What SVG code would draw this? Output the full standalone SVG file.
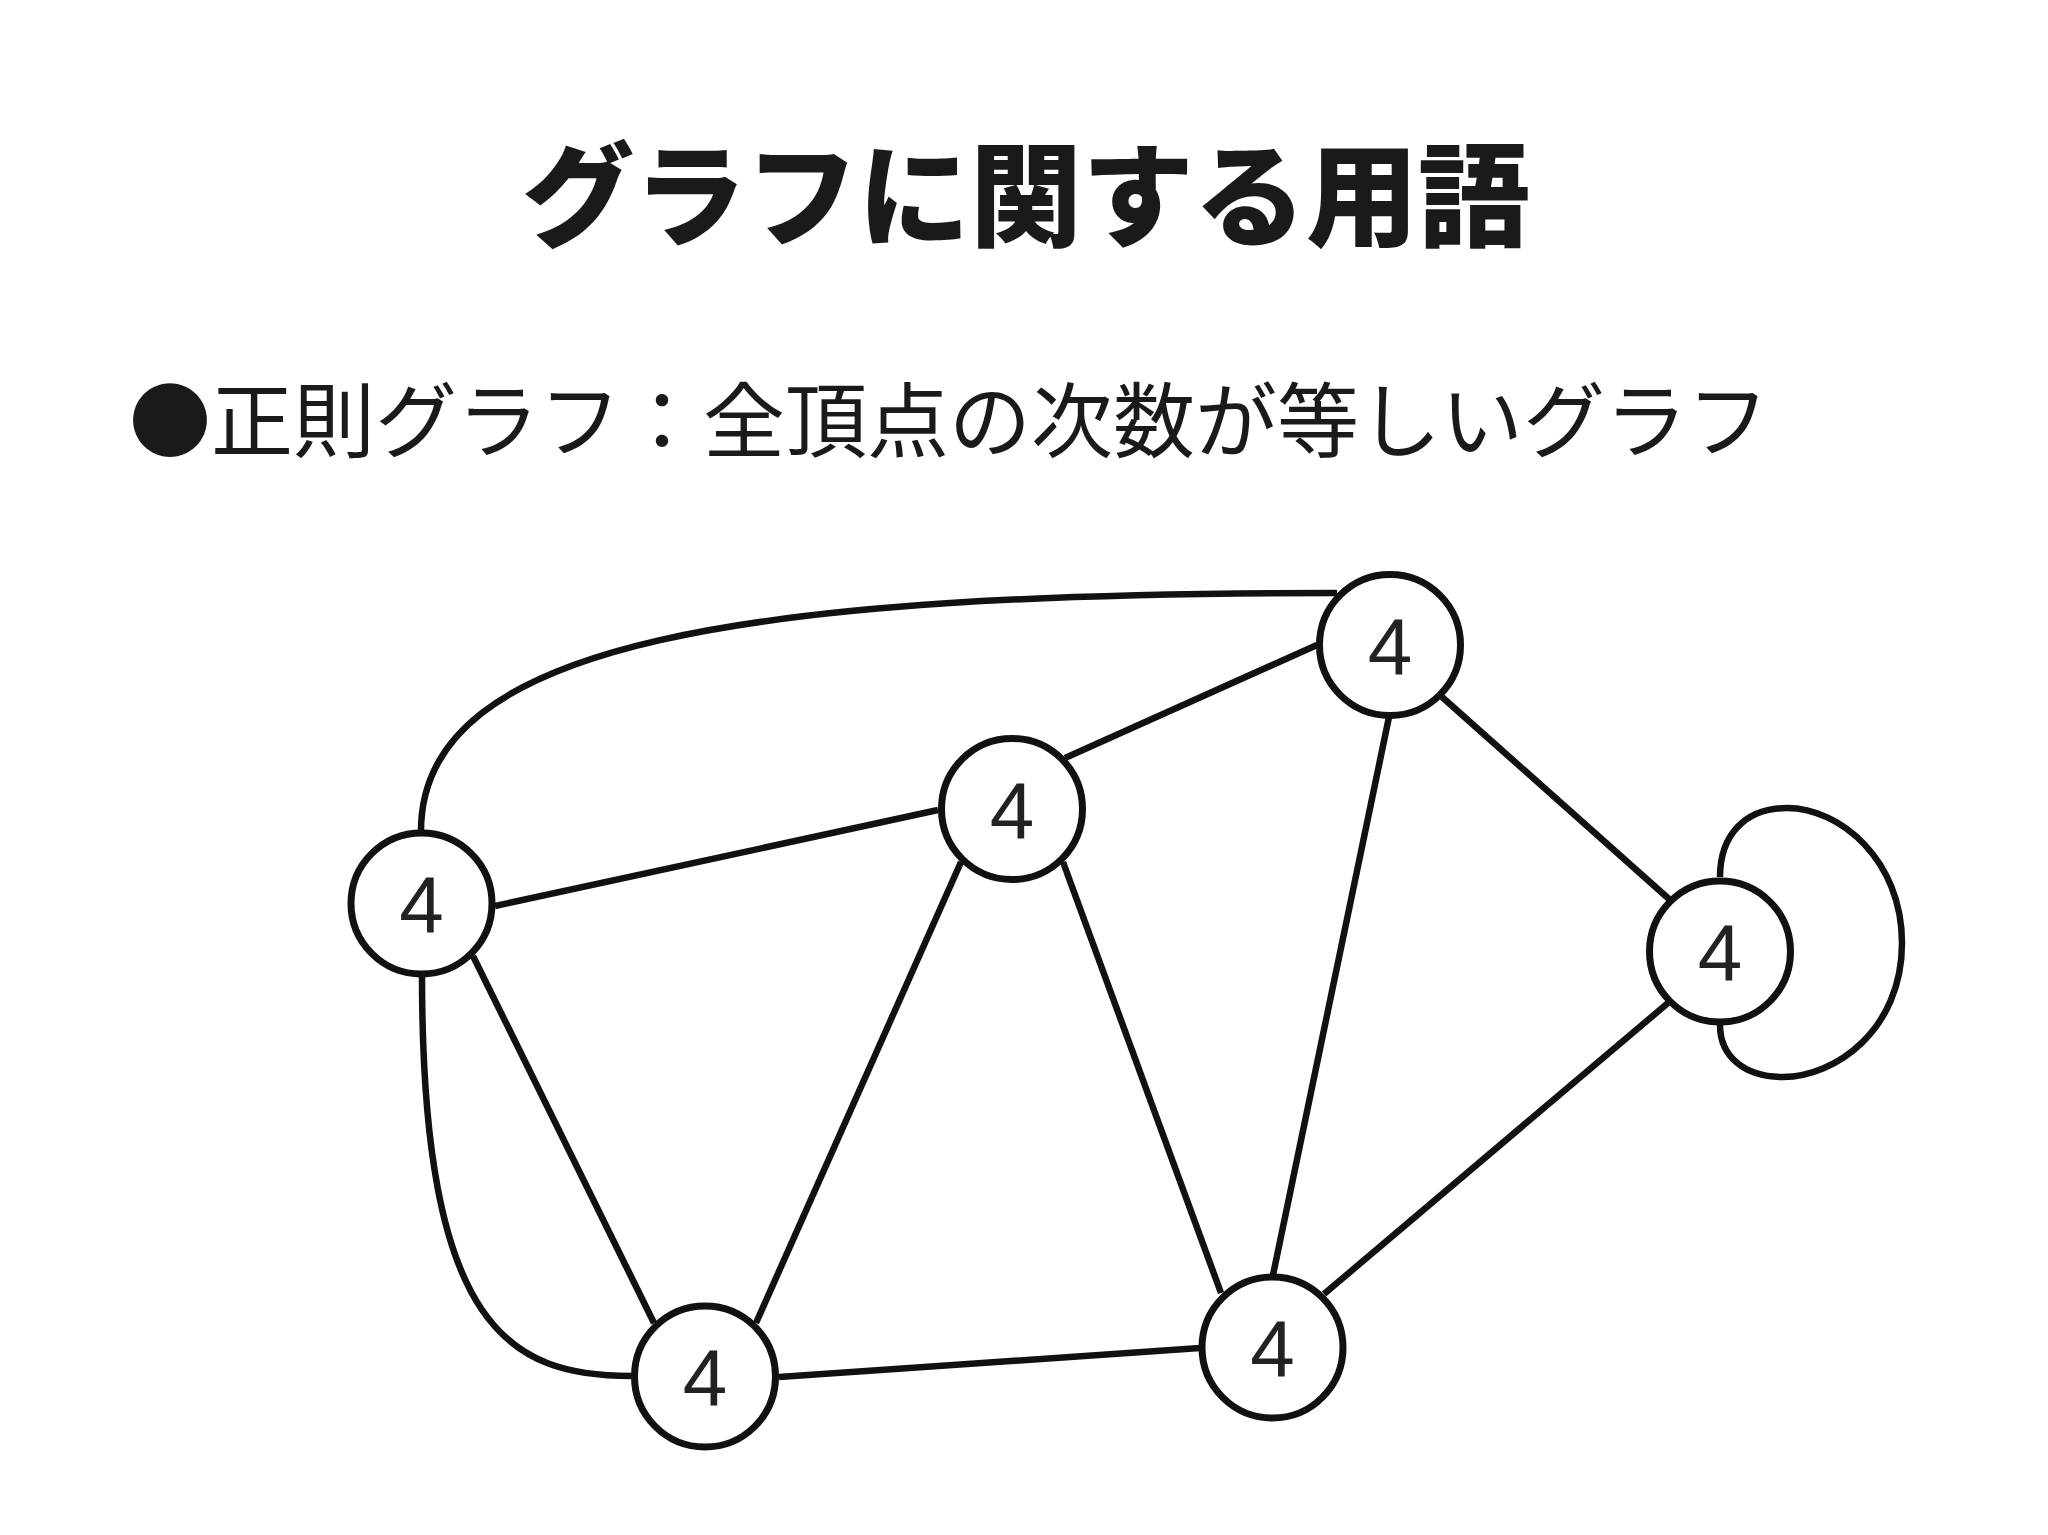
<svg xmlns="http://www.w3.org/2000/svg" width="2048" height="1535" viewBox="0 0 2048 1535">
<style>
.edge{fill:none;stroke:#111;stroke-width:6.5;stroke-linecap:butt}
.node circle{fill:#fff;stroke:#111;stroke-width:7}
.node text{font-family:"Liberation Sans",Arial,sans-serif;font-size:80px;fill:#222;text-anchor:middle}
.title{font-family:"Noto Sans CJK JP","Noto Sans",sans-serif;font-weight:900;font-size:112px;fill:#1a1a1a;text-anchor:middle}
.sub{font-family:"Noto Sans CJK JP","Noto Sans",sans-serif;font-size:82px;fill:#1a1a1a}
</style>
<rect width="2048" height="1535" fill="#fff"/>
<text class="title" x="1026" y="238">グラフに関する用語</text>
<text class="sub" x="129" y="451">●正則グラフ：全頂点の次数が等しいグラフ</text>
<g id="connectors">
<line class="edge" x1="495" y1="906" x2="938" y2="810"/>
<path class="edge" d="M421,831 C421,640 750,593 1337,593"/>
<path class="edge" d="M422,976 C422,1330 510,1376 632,1376"/>
<line class="edge" x1="473" y1="956" x2="654" y2="1323"/>
<line class="edge" x1="1065" y1="758" x2="1317" y2="645"/>
<line class="edge" x1="961" y1="862" x2="756" y2="1323"/>
<line class="edge" x1="1063" y1="862" x2="1221" y2="1293"/>
<line class="edge" x1="1389" y1="717" x2="1273" y2="1275"/>
<line class="edge" x1="1442" y1="697" x2="1669" y2="899"/>
<line class="edge" x1="1668" y1="1003" x2="1324" y2="1294"/>
<line class="edge" x1="779" y1="1377" x2="1200" y2="1348"/>
<path class="edge" d="M1720,877 C1720,835 1745,808 1787,808 C1840,808 1902,860 1902,943 C1902,1030 1835,1077 1783,1077 C1745,1077 1720,1057 1720,1025"/>
</g>
<g id="node-a" class="node"><circle cx="421.5" cy="903.5" r="70.5"/><text x="421.5" y="932">4</text></g>
<g id="node-b" class="node"><circle cx="1012" cy="809" r="70.5"/><text x="1012" y="837.5">4</text></g>
<g id="node-c" class="node"><circle cx="1390" cy="645" r="70.5"/><text x="1390" y="673.5">4</text></g>
<g id="node-d" class="node"><circle cx="1720" cy="951.5" r="70.5"/><text x="1720" y="980">4</text></g>
<g id="node-e" class="node"><circle cx="705" cy="1376.5" r="70.5"/><text x="705" y="1405">4</text></g>
<g id="node-f" class="node"><circle cx="1272.5" cy="1347.5" r="70.5"/><text x="1272.5" y="1376">4</text></g>
</svg>
